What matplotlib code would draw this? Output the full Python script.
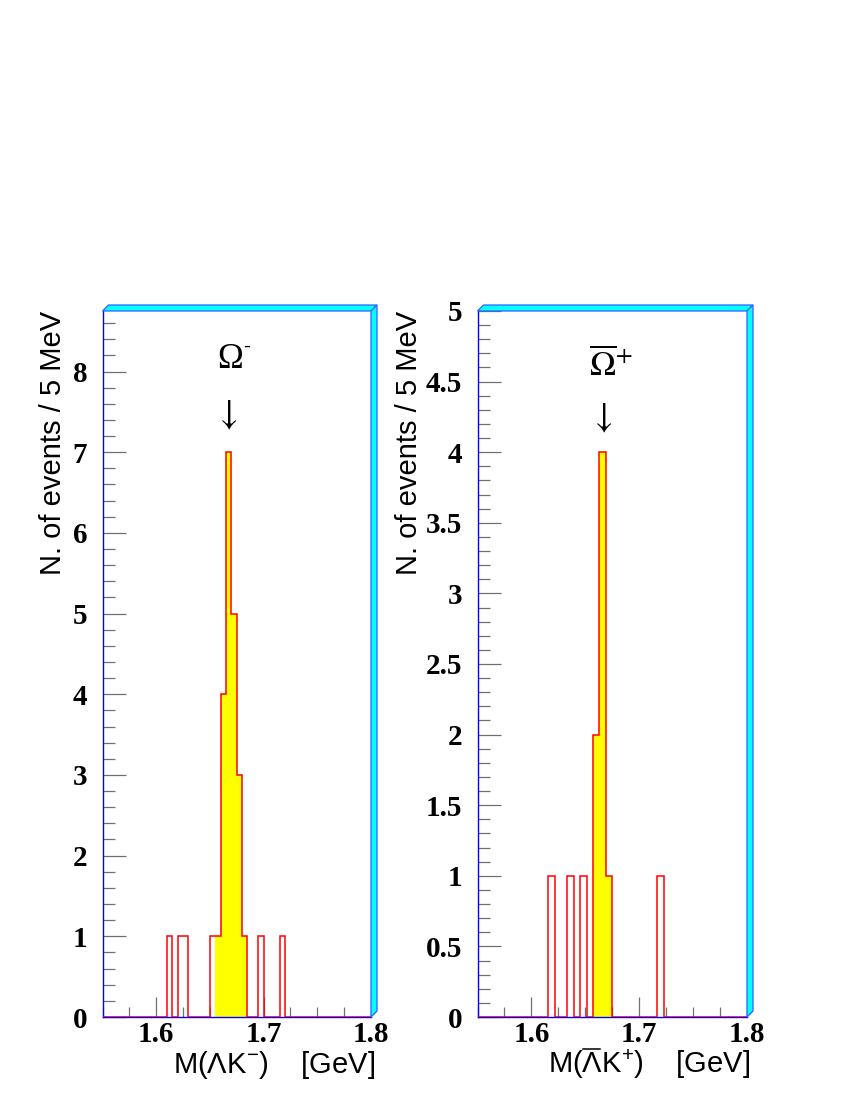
import matplotlib
matplotlib.use("Agg")
import matplotlib.pyplot as plt
import numpy as np
from matplotlib.patches import Polygon
from matplotlib.lines import Line2D
from matplotlib.ticker import FixedLocator, MultipleLocator, FuncFormatter

# ---------------- data ----------------
x_range = (1.55, 1.80)
left_nbins = 50
right_nbins = 42

# bin centres (GeV) and entries, M(Lambda K-)
left_mass = [1.6125, 1.6225, 1.6275, 1.6525, 1.6575, 1.6625, 1.6675,
             1.6725, 1.6775, 1.6825, 1.6975, 1.7175]
left_counts = [1, 1, 1, 1, 1, 4, 7, 5, 3, 1, 1, 1]
left_window = (1.655, 1.685)
left_ymax = 8.75
left_yticks = [0, 1, 2, 3, 4, 5, 6, 7, 8]

# bin centres (GeV) and entries, M(anti-Lambda K+)
right_mass = [1.618, 1.636, 1.648, 1.660, 1.666, 1.672, 1.720]
right_counts = [1, 1, 1, 2, 4, 1, 1]
right_window = (1.657, 1.675)
right_ymax = 5.0
right_yticks = [0, 0.5, 1, 1.5, 2, 2.5, 3, 3.5, 4, 4.5, 5]

xticks = [1.6, 1.7, 1.8]
xtick_labels = ["1.6", "1.7", "1.8"]

ylabel = "N. of events / 5 MeV"
left_xlabel = "M(\u039bK$^{-}$)    [GeV]"
right_xlabel = "M(\u039bK$^{+}$)    [GeV]"   # Lambda gets an overline below
right_peak = r"$\overline{\Omega}^{+}$"

# ---------------- style ----------------
plt.rcParams["mathtext.fontset"] = "custom"
plt.rcParams["mathtext.rm"] = "Liberation Sans"
plt.rcParams["mathtext.it"] = "Liberation Sans:italic"
plt.rcParams["mathtext.bf"] = "Liberation Sans:bold"

W, H = 850, 1100
fig = plt.figure(figsize=(8.5, 11), dpi=100)

ax_bottom = 1 - 1017 / H
ax_height = (1017 - 311) / H
axL = fig.add_axes([102.5 / W, ax_bottom, (371 - 102.5) / W, ax_height])
axR = fig.add_axes([477.5 / W, ax_bottom, (747 - 477.5) / W, ax_height])

tick_col = "#707070"


def fmt(v, pos):
    return "%g" % v


def draw_panel(ax, mass, counts, nbins, window, ymax, yticks, minor_step):
    edges = np.linspace(x_range[0], x_range[1], nbins + 1)
    mass = np.asarray(mass)
    counts = np.asarray(counts)
    sel = (mass > window[0]) & (mass < window[1])
    ax.hist(mass[sel], bins=edges, weights=counts[sel], histtype="stepfilled",
            facecolor="#ffff00", edgecolor="none", zorder=2)
    ax.hist(mass, bins=edges, weights=counts, histtype="step",
            color="#ff0000", linewidth=1.1, zorder=3)
    ax.set_xlim(*x_range)
    ax.set_ylim(0, ymax)

    ax.xaxis.set_major_locator(FixedLocator(xticks))
    ax.xaxis.set_minor_locator(MultipleLocator(0.025))
    ax.set_xticklabels(xtick_labels)
    ax.yaxis.set_major_locator(FixedLocator(yticks))
    ax.yaxis.set_minor_locator(MultipleLocator(minor_step))
    ax.yaxis.set_major_formatter(FuncFormatter(fmt))

    ax.tick_params(axis="y", which="both", direction="in", left=True, right=False,
                   color=tick_col, width=0.9, pad=11)
    ax.tick_params(axis="y", which="major", length=16.5)
    ax.tick_params(axis="y", which="minor", length=8.5)
    ax.tick_params(axis="x", which="both", direction="in", bottom=True, top=False,
                   color=tick_col, width=0.9, pad=3)
    ax.tick_params(axis="x", which="major", length=14.4)
    ax.tick_params(axis="x", which="minor", length=7.2)
    for lab in ax.get_xticklabels() + ax.get_yticklabels():
        lab.set_fontfamily("Liberation Serif")
        lab.set_fontweight("bold")
        lab.set_fontsize(21)

    for s in ("top", "right"):
        ax.spines[s].set_visible(False)
    for s in ("left", "bottom"):
        ax.spines[s].set_color("#0000ff")
        ax.spines[s].set_linewidth(1.0)

    # 3D-like cyan frame border (top and right)
    bb = ax.get_position()
    dx, dy = 6 / W, 6 / H
    top = Polygon([(bb.x0, bb.y1), (bb.x0 + dx, bb.y1 + dy),
                   (bb.x1 + dx, bb.y1 + dy), (bb.x1, bb.y1)],
                  closed=True, facecolor="#00ffff", edgecolor="#3060ff",
                  linewidth=0.9, transform=fig.transFigure)
    right = Polygon([(bb.x1, bb.y1), (bb.x1 + dx, bb.y1 + dy),
                     (bb.x1 + dx, bb.y0 + dy), (bb.x1, bb.y0)],
                    closed=True, facecolor="#00ffff", edgecolor="#3060ff",
                    linewidth=0.9, transform=fig.transFigure)
    fig.add_artist(top)
    fig.add_artist(right)


draw_panel(axL, left_mass, left_counts, left_nbins, left_window,
           left_ymax, left_yticks, 0.2)
draw_panel(axR, right_mass, right_counts, right_nbins, right_window,
           right_ymax, right_yticks, 0.1)

# peak labels and arrows
tL = axL.get_xaxis_transform()
tR = axR.get_xaxis_transform()
axL.text(1.6566, (1017 - 368) / 706, "\u03a9", transform=tL,
         ha="left", va="baseline", fontsize=25, family="Liberation Serif")
axL.text(1.6806, (1017 - 352) / 706, "-", transform=tL,
         ha="left", va="baseline", fontsize=15, family="Liberation Sans")
axL.text(1.6650, (1017 - 414) / 706, r"$\downarrow$", transform=tL,
         ha="center", va="center", fontsize=26, math_fontfamily="stix")
axR.text(1.6534, (1017 - 375) / 706, right_peak, transform=tR,
         ha="left", va="baseline", fontsize=25, math_fontfamily="stix")
axR.text(1.6644, (1017 - 417) / 706, r"$\downarrow$", transform=tR,
         ha="center", va="center", fontsize=26, math_fontfamily="stix")

# axis titles
lab_kw = dict(fontsize=21, family="Liberation Sans")
for xc in (53 / W, 409 / W):
    fig.text(xc, 1 - 311 / H, ylabel, rotation=90, ha="center", va="top", **lab_kw)
fig.text(375 / W, 1 - 1073 / H, left_xlabel, ha="right", va="baseline", **lab_kw)
tr = fig.text(750 / W, 1 - 1073 / H, right_xlabel, ha="right", va="baseline", **lab_kw)

# overline above the Lambda of the right-hand x title
fig.canvas.draw()
renderer = fig.canvas.get_renderer()
full_bb = tr.get_window_extent(renderer)
tmp1 = fig.text(0, 0, "M(", **lab_kw)
tmp2 = fig.text(0, 0, "M(\u039b", **lab_kw)
w1 = tmp1.get_window_extent(renderer).width
w2 = tmp2.get_window_extent(renderer).width
tmp1.remove()
tmp2.remove()
x_a = (full_bb.x0 + w1 + 1) / W
x_b = (full_bb.x0 + w2 - 1) / W
y_ol = 1 - 1049 / H
fig.add_artist(Line2D([x_a, x_b], [y_ol, y_ol], color="black", linewidth=1.1,
                      transform=fig.transFigure))

fig.savefig("out.png", dpi=100, facecolor="white")
